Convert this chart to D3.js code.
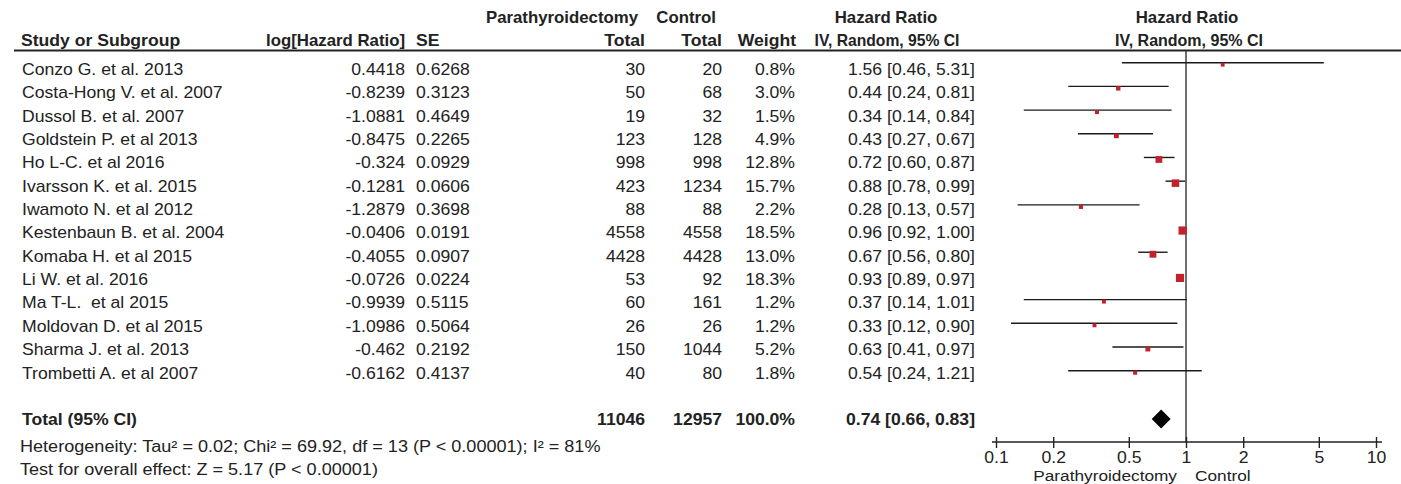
<!DOCTYPE html>
<html>
<head>
<meta charset="utf-8">
<script src="https://cdn.jsdelivr.net/npm/d3@7"></script>
<style>
  html, body { margin: 0; padding: 0; background: #fff; }
  svg { display: block; }
  text { font-family: "Liberation Sans", Arial, sans-serif; font-size: 16px; fill: #222; white-space: pre; }
  .hd { font-weight: bold; }
  .sm { font-size: 15px; }
</style>
</head>
<body>
<svg id="chart"></svg>
<script>
// Forest plot values.
const studies = ['Conzo G. et al. 2013', 'Costa-Hong V. et al. 2007', 'Dussol B. et al. 2007',
  'Goldstein P. et al 2013', 'Ho L-C. et al 2016', 'Ivarsson K. et al. 2015', 'Iwamoto N. et al 2012',
  'Kestenbaun B. et al. 2004', 'Komaba H. et al 2015', 'Li W. et al. 2016', 'Ma T-L.  et al 2015',
  'Moldovan D. et al 2015', 'Sharma J. et al. 2013', 'Trombetti A. et al 2007'];
const logHR = [0.4418, -0.8239, -1.0881, -0.8475, -0.324, -0.1281, -1.2879, -0.0406, -0.4055,
  -0.0726, -0.9939, -1.0986, -0.462, -0.6162];
const se = ['0.6268', '0.3123', '0.4649', '0.2265', '0.0929', '0.0606', '0.3698', '0.0191', '0.0907',
  '0.0224', '0.5115', '0.5064', '0.2192', '0.4137'];
const ptxTotal = [30, 50, 19, 123, 998, 423, 88, 4558, 4428, 53, 60, 26, 150, 40];
const ctrlTotal = [20, 68, 32, 128, 998, 1234, 88, 4558, 4428, 92, 161, 26, 1044, 80];
const weight = [0.8, 3.0, 1.5, 4.9, 12.8, 15.7, 2.2, 18.5, 13.0, 18.3, 1.2, 1.2, 5.2, 1.8];
const hr = [1.56, 0.44, 0.34, 0.43, 0.72, 0.88, 0.28, 0.96, 0.67, 0.93, 0.37, 0.33, 0.63, 0.54];
const lo = [0.46, 0.24, 0.14, 0.27, 0.60, 0.78, 0.13, 0.92, 0.56, 0.89, 0.14, 0.12, 0.41, 0.24];
const hi = [5.31, 0.81, 0.84, 0.67, 0.87, 0.99, 0.57, 1.00, 0.80, 0.97, 1.01, 0.90, 0.97, 1.21];

const total = {ptx: 11046, ctrl: 12957, weight: 100.0, hr: 0.74, lo: 0.66, hi: 0.83};
const tickVals = [0.1, 0.2, 0.5, 1, 2, 5, 10];
const heterogeneity = 'Heterogeneity: Tau\u00b2 = 0.02; Chi\u00b2 = 69.92, df = 13 (P < 0.00001); I\u00b2 = 81%';
const overall = 'Test for overall effect: Z = 5.17 (P < 0.00001)';

const W = 1401, H = 484;
const SX = 1.1; // the figure's type is a little wider than plain Arial

const svg = d3.select('#chart').attr('width', W).attr('height', H);

const x = d3.scaleLog().domain([0.1, 10]).range([996, 1376]);
const yText = d3.scaleLinear().domain([0, studies.length - 1]).range([75, 378.5]);
const yPlot = d3.scaleLinear().domain([0, studies.length - 1]).range([62.7, 370.7]);
const boxSize = d3.scaleLinear().domain([0, 20]).range([3.6, 8.6]);

function txt(g, px, py, s, anchor, cls, sx) {
  return g.append('text')
    .attr('class', cls || null)
    .attr('text-anchor', anchor || 'start')
    .attr('transform', `translate(${px},${py}) scale(${sx || SX},1)`)
    .text(s);
}

// header
const head = svg.append('g');
txt(head, 638, 23, 'Parathyroidectomy', 'end', 'hd', 1.05);
txt(head, 716, 23, 'Control', 'end', 'hd', 1.05);
txt(head, 886, 23, 'Hazard Ratio', 'middle', 'hd', 1.05);
txt(head, 1187, 23, 'Hazard Ratio', 'middle', 'hd', 1.05);
txt(head, 21, 46, 'Study or Subgroup', 'start', 'hd');
txt(head, 405, 46, 'log[Hazard Ratio]', 'end', 'hd', 1.05);
txt(head, 416, 46, 'SE', 'start', 'hd');
txt(head, 645, 46, 'Total', 'end', 'hd');
txt(head, 722, 46, 'Total', 'end', 'hd');
txt(head, 796, 46, 'Weight', 'end', 'hd');
txt(head, 887, 46, 'IV, Random, 95% CI', 'middle', 'hd', 0.98);
txt(head, 1189, 46, 'IV, Random, 95% CI', 'middle', 'hd', 1.0);

svg.append('line')
  .attr('x1', 14).attr('x2', W).attr('y1', 50.5).attr('y2', 50.5)
  .attr('stroke', '#222').attr('stroke-width', 2);

// table rows
const rows = svg.append('g');
studies.forEach((s, i) => {
  const y = yText(i);
  txt(rows, 22, y, s);
  txt(rows, 405, y, String(logHR[i]), 'end');
  txt(rows, 416, y, se[i]);
  txt(rows, 645, y, ptxTotal[i], 'end');
  txt(rows, 722, y, ctrlTotal[i], 'end');
  txt(rows, 795, y, weight[i].toFixed(1) + '%', 'end');
  txt(rows, 975, y, `${hr[i].toFixed(2)} [${lo[i].toFixed(2)}, ${hi[i].toFixed(2)}]`, 'end');
});

// total row
const yTot = 425;
txt(rows, 22, yTot, 'Total (95% CI)', 'start', 'hd');
txt(rows, 645, yTot, total.ptx, 'end', 'hd');
txt(rows, 722, yTot, total.ctrl, 'end', 'hd');
txt(rows, 795, yTot, total.weight.toFixed(1) + '%', 'end', 'hd');
txt(rows, 975, yTot, `${total.hr.toFixed(2)} [${total.lo.toFixed(2)}, ${total.hi.toFixed(2)}]`, 'end', 'hd');
txt(rows, 20, 452, heterogeneity, 'start', null, 1.13);
txt(rows, 20, 475, overall, 'start', null, 1.13);

// plot
const axisY = 442;
const plot = svg.append('g');

plot.append('line')
  .attr('x1', x(1)).attr('x2', x(1)).attr('y1', 51).attr('y2', axisY)
  .attr('stroke', '#333').attr('stroke-width', 1.4);

const ci = plot.selectAll('g.study').data(studies).enter().append('g').attr('class', 'study');
ci.append('line')
  .attr('x1', (d, i) => x(lo[i])).attr('x2', (d, i) => x(hi[i]))
  .attr('y1', (d, i) => yPlot(i)).attr('y2', (d, i) => yPlot(i))
  .attr('stroke', '#1a1a1a').attr('stroke-width', 1.4);
ci.append('rect')
  .attr('x', (d, i) => x(hr[i]) - boxSize(weight[i]) / 2)
  .attr('y', (d, i) => yPlot(i) + 2 - boxSize(weight[i]) / 2)
  .attr('width', (d, i) => boxSize(weight[i]))
  .attr('height', (d, i) => boxSize(weight[i]))
  .attr('fill', '#c1222b');

// pooled diamond
const dy = 419, dh = 9.6;
plot.append('path')
  .attr('d', `M${x(total.lo)},${dy}L${x(total.hr)},${dy - dh}L${x(total.hi)},${dy}L${x(total.hr)},${dy + dh}Z`)
  .attr('fill', '#000');

// axis
const axis = plot.append('g').attr('transform', `translate(0,${axisY})`)
  .call(d3.axisBottom(x).tickValues(tickVals).tickFormat(d => String(d)).tickSizeOuter(0).tickSize(6));
axis.select('.domain').remove();
axis.append('line')
  .attr('x1', x.range()[0] - 4).attr('x2', x.range()[1] + 6)
  .attr('stroke', '#222').attr('stroke-width', 1.4);
axis.selectAll('.tick line').attr('y1', -5).attr('y2', 6).attr('stroke', '#222').attr('stroke-width', 1.4);
axis.selectAll('.tick text')
  .attr('y', null).attr('dy', null)
  .attr('transform', `translate(0,20.5) scale(${SX},1)`)
  .style('font-size', '16px').style('font-family', '"Liberation Sans", Arial, sans-serif')
  .attr('fill', '#222');

txt(plot, 1177, 480.5, 'Parathyroidectomy', 'end', 'sm', 1.15);
txt(plot, 1195, 480.5, 'Control', 'start', 'sm', 1.15);
</script>
</body>
</html>
